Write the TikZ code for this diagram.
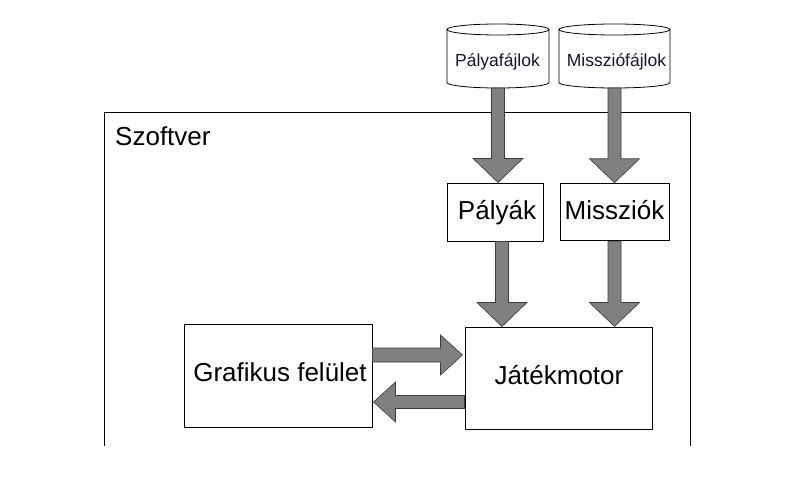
\documentclass[tikz,border=0pt]{standalone}
\usepackage{fontspec}
\setmainfont{Liberation Sans}
\usetikzlibrary{calc}
\definecolor{arrfill}{RGB}{128,128,128}
\definecolor{arredge}{RGB}{60,60,60}
\definecolor{cyltext}{RGB}{20,20,60}
\tikzset{
  box/.style={draw=black, line width=1pt, fill=white, inner sep=0pt},
  boxtext/.style={font=\fontsize{26}{28}\selectfont, inner sep=0pt, anchor=base},
  cyltxt/.style={font=\fontsize{17.5}{20}\selectfont, text=cyltext, inner sep=0pt, anchor=base},
  blockarr/.style={fill=arrfill, draw=arredge, line width=0.6pt, line join=miter},
  frameline/.style={draw=black, line width=1pt}
}
% vertical block arrow: #1 start point, #2 point whose y is the tip
\newcommand{\vblock}[2]{%
  \draw[blockarr] let \p1=#1, \p2=#2 in
    (\x1-6.5pt,\y1) -- (\x1-6.5pt,\y2+24pt) -- (\x1-25pt,\y2+24pt) -- (\x1,\y2)
    -- (\x1+25pt,\y2+24pt) -- (\x1+6.5pt,\y2+24pt) -- (\x1+6.5pt,\y1) -- cycle;}
% rightward block arrow
\newcommand{\rblock}[2]{%
  \draw[blockarr] let \p1=#1, \p2=#2 in
    (\x1,\y1+7pt) -- (\x2-22pt,\y1+7pt) -- (\x2-22pt,\y1+20pt) -- (\x2,\y1)
    -- (\x2-22pt,\y1-20pt) -- (\x2-22pt,\y1-7pt) -- (\x1,\y1-7pt) -- cycle;}
% leftward block arrow
\newcommand{\lblock}[2]{%
  \draw[blockarr] let \p1=#1, \p2=#2 in
    (\x1,\y1+6.5pt) -- (\x2+22pt,\y1+6.5pt) -- (\x2+22pt,\y1+20pt) -- (\x2,\y1)
    -- (\x2+22pt,\y1-20pt) -- (\x2+22pt,\y1-6.5pt) -- (\x1,\y1-6.5pt) -- cycle;}
\begin{document}
\begin{tikzpicture}[x=1pt,y=1pt]
\useasboundingbox[fill=white] (0,0) rectangle (794,491);

% Szoftver frame (open at the bottom)
\draw[frameline] (104,45) -- (104,379) -- (690,379) -- (690,45);
\node[boxtext, anchor=base west] (szoftver) at (115,346) {Szoftver};

% cylinders
\coordinate (c1top) at (498,461.5);
\coordinate (c1bot) at (498,403);
\coordinate (c2top) at (614.5,461.5);
\coordinate (c2bot) at (614.5,403);
\draw[line width=0.8pt, fill=white] (447,461.5) -- (447,408.5) arc[start angle=180, end angle=360, x radius=51, y radius=5.5] -- (549,461.5);
\draw[line width=0.8pt, fill=white] (c1top) ellipse[x radius=51, y radius=5.5];
\draw[line width=0.8pt, fill=white] (559,461.5) -- (559,408.5) arc[start angle=180, end angle=360, x radius=55.5, y radius=5.5] -- (670,461.5);
\draw[line width=0.8pt, fill=white] (c2top) ellipse[x radius=55.5, y radius=5.5];
\node[cyltxt] (palyaf) at (497.5,424.5) {Pályafájlok};
\node[cyltxt] (missf) at (616.5,424.5) {Missziófájlok};

% boxes
\node[box, minimum width=96, minimum height=58] (palyak) at (495,279) {};
\node[boxtext] (palyaktext) at (497,272) {Pályák};
\node[box, minimum width=109, minimum height=57.5] (missziok) at (614.5,279) {};
\node[boxtext] (missziokext) at (614.5,271.5) {Missziók};
\node[box, minimum width=187, minimum height=102] (motor) at (558.5,113) {};
\node[boxtext] (motortext) at (559,107) {Játékmotor};
\node[box, minimum width=188, minimum height=103] (gui) at (278,115.5) {};
\node[boxtext] (guitext) at (280,109.3) {Grafikus felület};

% arrows
\vblock{(c1bot)}{(palyak.north)}
\vblock{(c2bot)}{(missziok.north)}
\vblock{($(palyak.south)+(7,0)$)}{(motor.north)}
\vblock{(missziok.south)}{(motor.north)}
\rblock{($(gui.east)+(0,20.5)$)}{($(motor.west)+(-2,0)$)}
\lblock{($(motor.west)+(0,-24)$)}{($(gui.east)+(1,0)$)}
\end{tikzpicture}
\end{document}
